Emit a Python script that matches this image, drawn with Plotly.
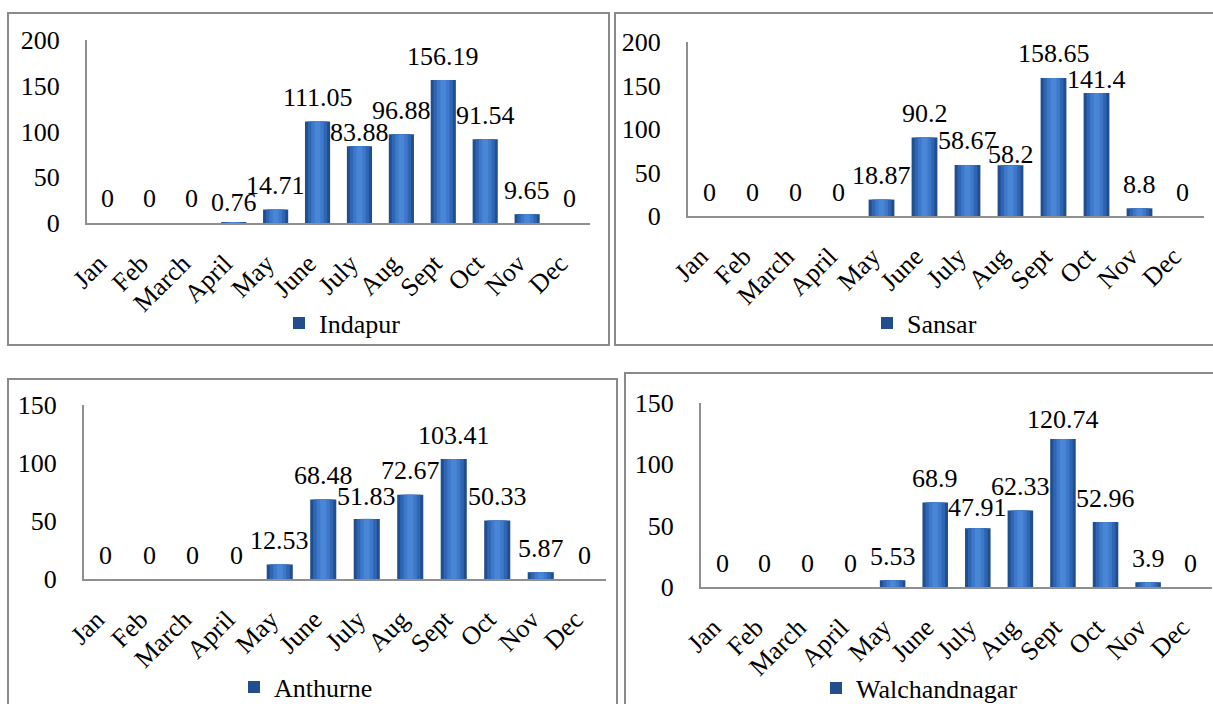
import plotly.graph_objects as go

months = ["Jan", "Feb", "March", "April", "May", "June", "July", "Aug", "Sept", "Oct", "Nov", "Dec"]
indapur = [0, 0, 0, 0.76, 14.71, 111.05, 83.88, 96.88, 156.19, 91.54, 9.65, 0]
sansar = [0, 0, 0, 0, 18.87, 90.2, 58.67, 58.2, 158.65, 141.4, 8.8, 0]
anthurne = [0, 0, 0, 0, 12.53, 68.48, 51.83, 72.67, 103.41, 50.33, 5.87, 0]
walchandnagar = [0, 0, 0, 0, 5.53, 68.9, 47.91, 62.33, 120.74, 52.96, 3.9, 0]

W, H = 1213, 704
FONT = "Liberation Serif"
FS = 26

panels = [
    # name, values, x0,x1 (px), ytop,ybot (px), ymax, legend x, legend y
    ("Indapur", indapur, 87, 590, 40, 223, 200, 279, 323),
    ("Sansar", sansar, 688, 1204, 42, 216, 200, 867, 323),
    ("Anthurne", anthurne, 84, 606, 405, 579, 150, 234, 687),
    ("Walchandnagar", walchandnagar, 701, 1212, 403, 587, 150, 816, 688),
]

# label offsets (px above bar top); a few labels sit lower, as in the reference
DEFAULT_SHIFT = 24
label_shift = {
    ("Indapur", "April"): 20, ("Indapur", "July"): 14,
    ("Sansar", "Aug"): 11, ("Sansar", "Oct"): 13,
    ("Anthurne", "July"): 22,
    ("Walchandnagar", "July"): 21, ("Walchandnagar", "Sept"): 19,
}

fig = go.Figure()
layout = dict(
    width=W, height=H, margin=dict(l=0, r=0, t=0, b=0, autoexpand=False),
    paper_bgcolor="white", plot_bgcolor="white",
    barmode="overlay", showlegend=True,
    font=dict(family=FONT, size=FS, color="black"),
)
annotations = []
shapes = []

for i, (name, vals, x0, x1, yt, yb, ymax, lx, ly) in enumerate(panels, start=1):
    xa = "x" if i == 1 else f"x{i}"
    ya = "y" if i == 1 else f"y{i}"
    lg = "legend" if i == 1 else f"legend{i}"
    # layered bars for a bevelled look
    for w, col, show in [(0.6, "#224E8E", True), (0.46, "#2F66B4", False), (0.3, "#3D78CA", False), (0.14, "#4A86D6", False)]:
        fig.add_trace(go.Bar(
            x=months, y=vals, name=name, width=w,
            marker=dict(color=col, line=dict(width=0)),
            xaxis=xa, yaxis=ya, legend=lg, showlegend=show,
            hoverinfo="skip" if not show else None,
        ))
    for m, v in zip(months, vals):
        annotations.append(dict(
            x=m, y=v, xref=xa, yref=ya, text=f"{v:g}", showarrow=False,
            yanchor="middle", yshift=label_shift.get((name, m), DEFAULT_SHIFT),
            font=dict(family=FONT, size=FS, color="black"),
        ))
    layout["xaxis" if i == 1 else f"xaxis{i}"] = dict(
        domain=[x0 / W, x1 / W], anchor=ya, type="category",
        categoryorder="array", categoryarray=months,
        showline=True, linecolor="#8f8f8f", linewidth=2,
        showgrid=False, zeroline=False, ticks="", tickangle=-45,
        tickfont=dict(family=FONT, size=FS, color="black"),
        ticklabelstandoff=13, ticklabelshift=-9,
    )
    layout["yaxis" if i == 1 else f"yaxis{i}"] = dict(
        domain=[1 - yb / H, 1 - yt / H], anchor=xa, range=[0, ymax], dtick=50,
        showline=True, linecolor="#8f8f8f", linewidth=2,
        showgrid=False, zeroline=False, ticks="",
        tickfont=dict(family=FONT, size=FS, color="black"),
        ticklabelstandoff=20,
    )
    layout[lg] = dict(
        x=lx / W, y=1 - ly / H, xanchor="left", yanchor="middle",
        xref="paper", yref="paper", bgcolor="rgba(0,0,0,0)",
        font=dict(family=FONT, size=FS, color="black"), itemwidth=30,
    )

# panel borders
for bx0, by0, bx1, by1 in [(8, 13, 609, 345), (615, 13, 1220, 345), (8, 379, 617, 720), (625, 373, 1220, 720)]:
    shapes.append(dict(type="rect", xref="paper", yref="paper",
                       x0=bx0 / W, x1=bx1 / W, y0=1 - by1 / H, y1=1 - by0 / H,
                       line=dict(color="#8a8a8a", width=2), fillcolor="rgba(0,0,0,0)", layer="below"))

layout["annotations"] = annotations
layout["shapes"] = shapes
fig.update_layout(**layout)
fig.write_html("out.html")
